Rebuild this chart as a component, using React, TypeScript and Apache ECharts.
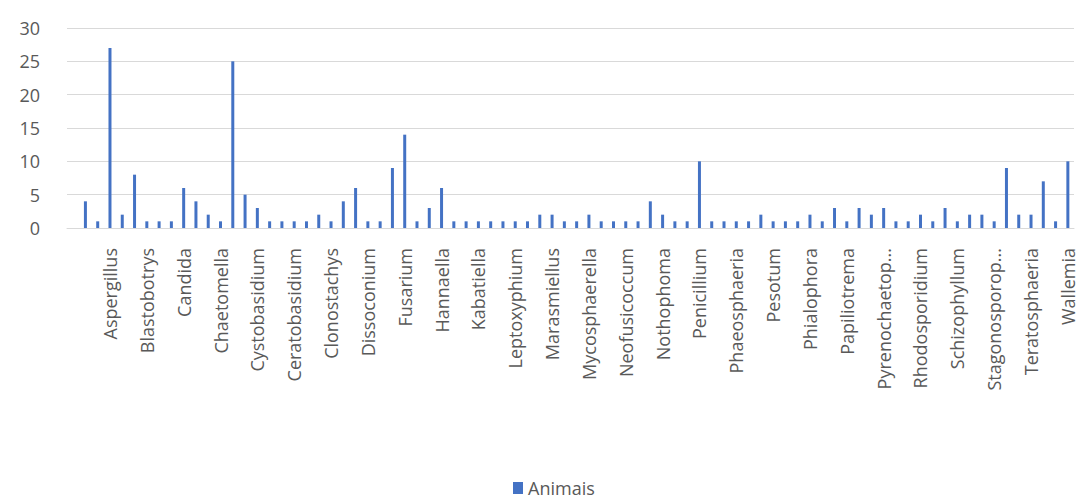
import React, { useEffect, useRef } from "react";
import * as echarts from "echarts";

// Genus names shown on the axis (every third category); the others are unlabeled in the picture
const labeledGenera = [
  "Aspergillus", "Blastobotrys", "Candida", "Chaetomella", "Cystobasidium",
  "Ceratobasidium", "Clonostachys", "Dissoconium", "Fusarium", "Hannaella",
  "Kabatiella", "Leptoxyphium", "Marasmiellus", "Mycosphaerella", "Neofusicoccum",
  "Nothophoma", "Penicillium", "Phaeosphaeria", "Pesotum", "Phialophora",
  "Papiliotrema", "Pyrenochaetop...", "Rhodosporidium", "Schizophyllum",
  "Stagonosporop...", "Teratosphaeria", "Wallemia",
];

// Counts per category (Animais), read left to right
const animais = [
  0, 4, 1, 27, 2, 8, 1, 1, 1, 6,
  4, 2, 1, 25, 5, 3, 1, 1, 1, 1,
  2, 1, 4, 6, 1, 1, 9, 14, 1, 3,
  6, 1, 1, 1, 1, 1, 1, 1, 2, 2,
  1, 1, 2, 1, 1, 1, 1, 4, 2, 1,
  1, 10, 1, 1, 1, 1, 2, 1, 1, 1,
  2, 1, 3, 1, 3, 2, 3, 1, 1, 2,
  1, 3, 1, 2, 2, 1, 9, 2, 2, 7,
  1, 10,
];

const yTicks = { min: 0, max: 30, interval: 5 };

const categories = animais.map((_, i) =>
  i % 3 === 0 && i > 0 ? labeledGenera[i / 3 - 1] ?? "" : ""
);

export default function App() {
  const ref = useRef<HTMLDivElement>(null);
  useEffect(() => {
    document.body.style.margin = "0";
    const chart = echarts.init(ref.current!, null, { renderer: "svg" });
    chart.setOption({
      animation: false,
      backgroundColor: "#ffffff",
      textStyle: { fontFamily: "Open Sans" },
      grid: { left: 67, right: 6, top: 28, height: 200 },
      legend: {
        data: ["Animais"],
        left: 508,
        top: 474,
        icon: "rect",
        itemWidth: 10,
        itemHeight: 12,
        itemGap: 6,
        textStyle: { color: "#595959", fontSize: 18, fontFamily: "Open Sans" },
      },
      xAxis: {
        type: "category",
        data: categories,
        axisLine: { lineStyle: { color: "#d9d9d9", width: 1 } },
        axisTick: { show: false },
        axisLabel: {
          interval: (index: number) => index % 3 === 0 && index > 0,
          rotate: 90,
          margin: 20,
          color: "#595959",
          fontSize: 18,
          fontFamily: "Open Sans",
        },
      },
      yAxis: {
        type: "value",
        min: yTicks.min,
        max: yTicks.max,
        interval: yTicks.interval,
        axisLine: { show: false },
        axisTick: { show: false },
        splitLine: { lineStyle: { color: "#d9d9d9", width: 1 } },
        axisLabel: {
          color: "#595959",
          fontSize: 18,
          margin: 27,
          fontFamily: "Open Sans",
        },
      },
      series: [
        {
          name: "Animais",
          type: "bar",
          data: animais,
          barWidth: 3,
          itemStyle: { color: "#4472c4" },
        },
      ],
    });
    return () => chart.dispose();
  }, []);
  return <div ref={ref} style={{ width: 1080, height: 500 }} />;
}
